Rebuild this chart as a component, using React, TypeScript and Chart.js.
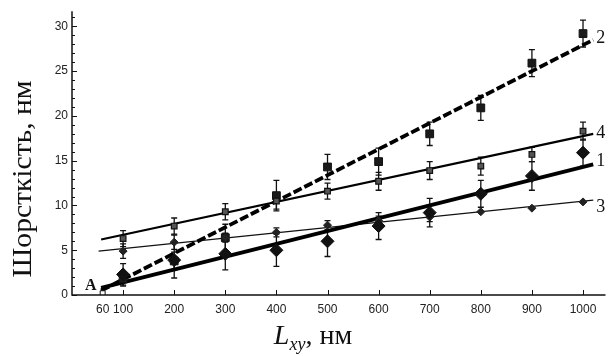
import React, { useEffect, useRef } from "react";
import { Chart, registerables } from "chart.js";
Chart.register(...registerables);

// ---- data ----
const lengths = [100, 200, 300, 400, 500, 600, 700, 800, 900, 1000];
const series1 = [2.3, 3.9, 4.6, 5.0, 6.0, 7.7, 9.2, 11.3, 13.3, 15.9];
const series1Err = [1.2, 2.0, 1.8, 1.8, 1.7, 1.5, 1.6, 1.5, 1.6, 1.5];
const series2 = [1.8, 3.8, 6.4, 11.1, 14.3, 14.9, 18.0, 20.9, 25.9, 29.2];
const series2Err = [0.8, 1.0, 1.5, 1.7, 1.4, 1.5, 1.3, 1.4, 1.5, 1.5];
const series3 = [4.9, 5.9, 6.4, 7.0, 7.8, 8.3, 8.7, 9.3, 9.7, 10.4];
const series3Err = [0.8, 0.8, 0.5, 0.5, 0.5, 0.5, 0.5, 0, 0, 0];
const series4 = [6.3, 7.7, 9.3, 10.5, 11.6, 12.7, 13.9, 14.4, 15.7, 18.3];
const series4Err = [0.9, 0.9, 0.9, 0.9, 0.9, 1.0, 1.0, 1.0, 0.8, 1.0];

// fitted lines (start / end of each line)
const fit1X = [57, 1020];
const fit1Y = [0.8, 14.6];
const fit2X = [57, 1020];
const fit2Y = [0.5, 28.5];
const fit3X = [52, 1020];
const fit3Y = [4.9, 10.6];
const fit4X = [57, 1020];
const fit4Y = [6.2, 18.0];
const curveNames = ["1", "2", "3", "4"];

const pointA = { x: 60, y: 0.2, label: "A" };

const xTickValues = [60, 100, 200, 300, 400, 500, 600, 700, 800, 900, 1000];
const yTickValues = [0, 5, 10, 15, 20, 25, 30];

const xTitleMain = "L";
const xTitleSub = "xy";
const xTitleUnit = ", нм";
const yTitle = "Шорсткість, нм";

const pts = (xs: number[], ys: number[]) => xs.map((x, i) => ({ x, y: ys[i] }));

const decorPlugin = {
  id: "decor",
  beforeDatasetsDraw(chart: any) {
    const ctx = chart.ctx;
    const xs = chart.scales.x;
    const ys = chart.scales.y;
    ctx.save();
    chart.data.datasets.forEach((ds: any) => {
      if (!ds.errors) return;
      ds.data.forEach((p: any, j: number) => {
        const e = ds.errors[j];
        if (!e) return;
        const px = xs.getPixelForValue(p.x);
        const y1 = ys.getPixelForValue(p.y + e);
        const y2 = ys.getPixelForValue(p.y - e);
        ctx.strokeStyle = "#111";
        ctx.lineWidth = 1.3;
        ctx.beginPath();
        ctx.moveTo(px, y1);
        ctx.lineTo(px, y2);
        ctx.moveTo(px - 3, y1);
        ctx.lineTo(px + 3, y1);
        ctx.moveTo(px - 3, y2);
        ctx.lineTo(px + 3, y2);
        ctx.stroke();
      });
    });
    ctx.restore();
  },
  afterDraw(chart: any) {
    const ctx = chart.ctx;
    const xs = chart.scales.x;
    const ys = chart.scales.y;
    const ca = chart.chartArea;
    ctx.save();
    // axes
    ctx.strokeStyle = "#111";
    ctx.lineWidth = 1.5;
    ctx.beginPath();
    ctx.moveTo(ca.left, ca.top);
    ctx.lineTo(ca.left, ca.bottom);
    ctx.lineTo(ca.right, ca.bottom);
    ctx.stroke();
    ctx.lineWidth = 1;
    ctx.beginPath();
    for (let v = 0; v <= 31; v++) {
      const py = Math.round(ys.getPixelForValue(v)) + 0.5;
      const len = v % 5 === 0 ? 5 : 3;
      ctx.moveTo(ca.left, py);
      ctx.lineTo(ca.left + len, py);
    }
    for (const v of xTickValues) {
      if (v % 100 !== 0) continue;
      const px = Math.round(xs.getPixelForValue(v)) + 0.5;
      ctx.moveTo(px, ca.bottom);
      ctx.lineTo(px, ca.bottom - 5);
    }
    ctx.stroke();

    // curve labels
    ctx.fillStyle = "#111";
    ctx.font = "18px 'Liberation Serif', serif";
    ctx.textAlign = "left";
    ctx.textBaseline = "middle";
    const ends = [
      [fit1X, fit1Y, -3],
      [fit2X, fit2Y, -2],
      [fit3X, fit3Y, 7],
      [fit4X, fit4Y, -1],
    ] as any[];
    ends.forEach((e, i) => {
      const xArr = e[0], yArr = e[1];
      const px = xs.getPixelForValue(xArr[xArr.length - 1]);
      const py = ys.getPixelForValue(yArr[yArr.length - 1]);
      ctx.fillText(curveNames[i], px + 3, py + e[2]);
    });

    // label A
    ctx.font = "bold 16px 'Liberation Serif', serif";
    ctx.textAlign = "right";
    ctx.textBaseline = "alphabetic";
    ctx.fillText(pointA.label, xs.getPixelForValue(pointA.x) - 6, ys.getPixelForValue(pointA.y) - 3);

    // y title (condensed along its length to fit the reference span)
    ctx.save();
    ctx.translate(31, 179);
    ctx.rotate(-Math.PI / 2);
    ctx.font = "28px 'Liberation Serif', serif";
    const yw = ctx.measureText(yTitle).width;
    ctx.scale(197 / yw, 1);
    ctx.textAlign = "center";
    ctx.textBaseline = "alphabetic";
    ctx.fillText(yTitle, 0, 0);
    ctx.restore();

    // x title
    const mainFont = "italic 28px 'Liberation Serif', serif";
    const subFont = "italic 18px 'Liberation Serif', serif";
    const unitFont = "28px 'Liberation Serif', serif";
    ctx.font = mainFont;
    const w1 = ctx.measureText(xTitleMain).width;
    ctx.font = subFont;
    const w2 = ctx.measureText(xTitleSub).width;
    ctx.font = unitFont;
    const w3 = ctx.measureText(xTitleUnit).width;
    const total = w1 + w2 + w3;
    let x0 = 313 - total / 2;
    const base = 344;
    ctx.textAlign = "left";
    ctx.font = mainFont;
    ctx.fillText(xTitleMain, x0, base);
    x0 += w1;
    ctx.font = subFont;
    ctx.fillText(xTitleSub, x0, base + 6);
    x0 += w2;
    ctx.font = unitFont;
    ctx.fillText(xTitleUnit, x0, base);
    ctx.restore();
  },
};

export default function App() {
  const ref = useRef<HTMLCanvasElement>(null);
  useEffect(() => {
    const tickFont = { family: "'Liberation Sans', Arial, sans-serif", size: 12 };
    const chart = new Chart(ref.current as HTMLCanvasElement, {
      type: "scatter",
      data: {
        datasets: [
          {
            label: "A",
            data: [{ x: pointA.x, y: pointA.y }],
            pointStyle: "rect",
            pointRadius: 3.5,
            backgroundColor: "#fff",
            borderColor: "#111",
            borderWidth: 1,
            showLine: false,
          },
          {
            label: "1",
            data: pts(lengths, series1),
            errors: series1Err,
            pointStyle: "rectRot",
            pointRadius: 6.5,
            backgroundColor: "#111",
            borderColor: "#111",
            borderWidth: 1,
            showLine: false,
          } as any,
          {
            label: "3",
            data: pts(lengths, series3),
            errors: series3Err,
            pointStyle: "rectRot",
            pointRadius: 4,
            backgroundColor: "#222",
            borderColor: "#222",
            borderWidth: 1,
            showLine: false,
          } as any,
          {
            label: "4",
            data: pts(lengths, series4),
            errors: series4Err,
            pointStyle: "rect",
            pointRadius: 4,
            backgroundColor: "#555",
            borderColor: "#111",
            borderWidth: 1.2,
            showLine: false,
          } as any,
          {
            label: "2",
            data: pts(lengths, series2),
            errors: series2Err,
            pointStyle: "rect",
            pointRadius: 5.5,
            backgroundColor: "#1a1a1a",
            borderColor: "#111",
            borderWidth: 1,
            showLine: false,
          } as any,
          {
            label: "fit1",
            data: pts(fit1X, fit1Y),
            showLine: true,
            pointRadius: 0,
            borderColor: "#000",
            borderWidth: 3.8,
          },
          {
            label: "fit2",
            data: pts(fit2X, fit2Y),
            showLine: true,
            pointRadius: 0,
            borderColor: "#000",
            borderWidth: 3.8,
            borderDash: [9, 3],
          },
          {
            label: "fit3",
            data: pts(fit3X, fit3Y),
            showLine: true,
            pointRadius: 0,
            borderColor: "#111",
            borderWidth: 1.2,
          },
          {
            label: "fit4",
            data: pts(fit4X, fit4Y),
            showLine: true,
            pointRadius: 0,
            borderColor: "#000",
            borderWidth: 2.2,
          },
        ],
      },
      options: {
        responsive: false,
        animation: false,
        devicePixelRatio: 1,
        layout: { padding: { top: 10, right: 0, left: 0, bottom: 0 } },
        plugins: { legend: { display: false }, tooltip: { enabled: false } },
        scales: {
          x: {
            type: "linear",
            min: 0,
            max: 1044,
            grid: { display: false, drawTicks: false },
            border: { display: false },
            ticks: {
              font: tickFont,
              color: "#222",
              padding: 7,
              autoSkip: false,
              maxRotation: 0,
              callback: (v: any) => String(v),
            },
            afterBuildTicks: (s: any) => {
              s.ticks = xTickValues.map((v) => ({ value: v }));
            },
            afterFit: (s: any) => {
              s.height = 61;
            },
          },
          y: {
            type: "linear",
            min: 0,
            max: 31.7,
            grid: { display: false, drawTicks: false },
            border: { display: false },
            ticks: { font: tickFont, color: "#222", padding: 4, callback: (v: any) => String(v) },
            afterBuildTicks: (s: any) => {
              s.ticks = yTickValues.map((v) => ({ value: v }));
            },
            afterFit: (s: any) => {
              s.width = 72;
            },
          },
        },
      } as any,
      plugins: [decorPlugin],
    });
    return () => chart.destroy();
  }, []);
  return (
    <div style={{ position: "fixed", left: 0, top: 0, width: 613, height: 356, background: "#fff" }}>
      <canvas ref={ref} width={613} height={356} />
    </div>
  );
}
